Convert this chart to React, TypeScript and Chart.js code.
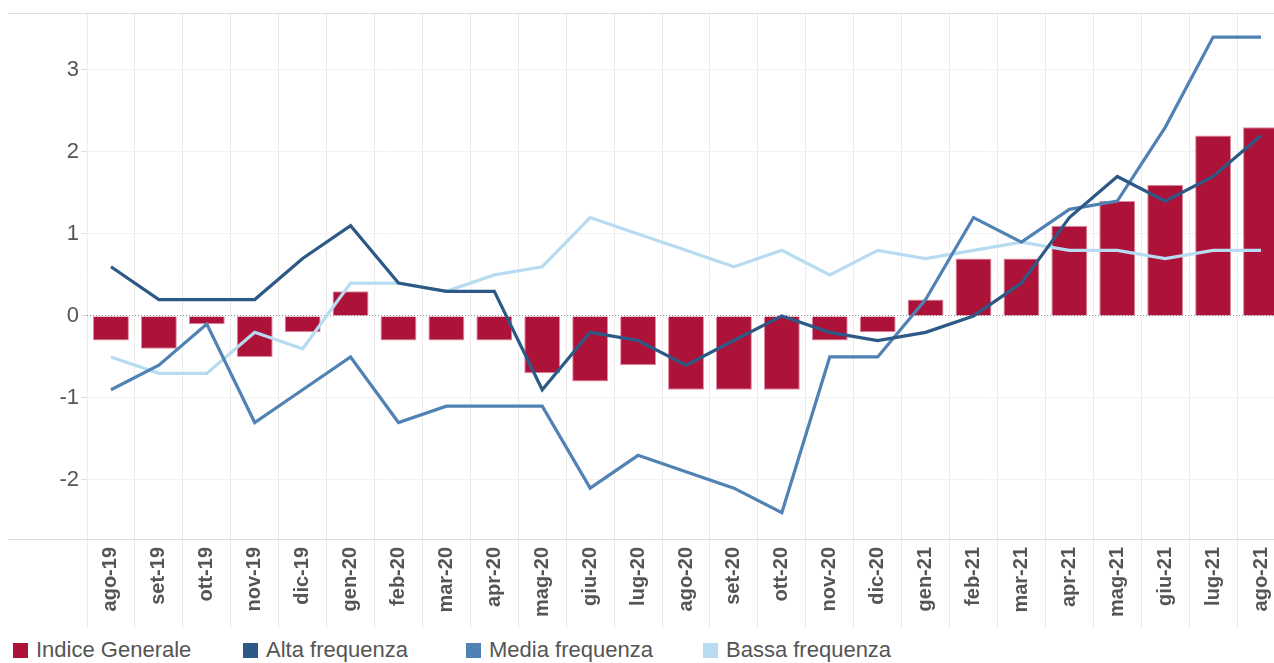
import React, { useEffect, useRef } from "react";
import { Chart, registerables } from "chart.js";

Chart.register(...registerables);

const categories = [
  "ago-19", "set-19", "ott-19", "nov-19", "dic-19", "gen-20", "feb-20", "mar-20", "apr-20",
  "mag-20", "giu-20", "lug-20", "ago-20", "set-20", "ott-20", "nov-20", "dic-20", "gen-21",
  "feb-21", "mar-21", "apr-21", "mag-21", "giu-21", "lug-21", "ago-21",
];

const indiceGenerale = [
  -0.3, -0.4, -0.1, -0.5, -0.2, 0.3, -0.3, -0.3, -0.3, -0.7, -0.8, -0.6, -0.9, -0.9, -0.9,
  -0.3, -0.2, 0.2, 0.7, 0.7, 1.1, 1.4, 1.6, 2.2, 2.3,
];

const altaFrequenza = [
  0.6, 0.2, 0.2, 0.2, 0.7, 1.1, 0.4, 0.3, 0.3, -0.9, -0.2, -0.3, -0.6, -0.3, 0.0, -0.2, -0.3,
  -0.2, 0.0, 0.4, 1.2, 1.7, 1.4, 1.7, 2.2,
];

const mediaFrequenza = [
  -0.9, -0.6, -0.1, -1.3, -0.9, -0.5, -1.3, -1.1, -1.1, -1.1, -2.1, -1.7, -1.9, -2.1, -2.4,
  -0.5, -0.5, 0.2, 1.2, 0.9, 1.3, 1.4, 2.3, 3.4, 3.4,
];

const bassaFrequenza = [
  -0.5, -0.7, -0.7, -0.2, -0.4, 0.4, 0.4, 0.3, 0.5, 0.6, 1.2, 1.0, 0.8, 0.6, 0.8, 0.5, 0.8,
  0.7, 0.8, 0.9, 0.8, 0.8, 0.7, 0.8, 0.8,
];

const seriesNames = ["Indice Generale", "Alta frequenza", "Media frequenza", "Bassa frequenza"];
const seriesColors = ["#AD1338", "#2C5985", "#5082B4", "#B7DCF1"];
const legendLefts = [13, 243, 466, 703];

const Y_MIN = -2.72;
const Y_MAX = 3.7;

const FONT = "'Liberation Sans', Arial, sans-serif";

const framePlugin = {
  id: "frameLines",
  beforeDatasetsDraw(chart: any) {
    const { ctx, chartArea } = chart;
    ctx.save();
    ctx.strokeStyle = "#dedede";
    ctx.lineWidth = 1;
    ctx.beginPath();
    const top = Math.round(chartArea.top) + 0.5;
    const bottom = Math.round(chartArea.bottom) + 0.5;
    ctx.moveTo(8, top);
    ctx.lineTo(chart.width, top);
    ctx.moveTo(8, bottom);
    ctx.lineTo(chart.width, bottom);
    ctx.stroke();
    ctx.restore();
  },
};

function ChartView() {
  const canvasRef = useRef<HTMLCanvasElement | null>(null);

  useEffect(() => {
    if (!canvasRef.current) return;
    const chart = new Chart(canvasRef.current, {
      type: "bar",
      data: {
        labels: categories,
        datasets: [
          {
            type: "bar",
            label: seriesNames[0],
            data: indiceGenerale,
            backgroundColor: seriesColors[0],
            borderColor: "rgba(214,110,140,0.8)",
            borderWidth: 1,
            barPercentage: 0.75,
            categoryPercentage: 1,
            order: 4,
          },
          {
            type: "line",
            label: seriesNames[1],
            data: altaFrequenza,
            borderColor: seriesColors[1],
            backgroundColor: seriesColors[1],
            borderWidth: 3.2,
            pointRadius: 0,
            tension: 0,
            order: 1,
          },
          {
            type: "line",
            label: seriesNames[2],
            data: mediaFrequenza,
            borderColor: seriesColors[2],
            backgroundColor: seriesColors[2],
            borderWidth: 3.2,
            pointRadius: 0,
            tension: 0,
            order: 2,
          },
          {
            type: "line",
            label: seriesNames[3],
            data: bassaFrequenza,
            borderColor: seriesColors[3],
            backgroundColor: seriesColors[3],
            borderWidth: 3.2,
            pointRadius: 0,
            tension: 0,
            order: 3,
          },
        ] as any,
      },
      options: {
        animation: false,
        responsive: true,
        maintainAspectRatio: false,
        layout: { padding: { top: 12.5, right: 0, bottom: 0, left: 0 } },
        plugins: {
          legend: { display: false },
          tooltip: { enabled: false },
        },
        scales: {
          x: {
            offset: true,
            grid: {
              offset: true,
              color: "#ebebeb",
              tickColor: "#ebebeb",
              tickLength: 89,
              lineWidth: 1,
            },
            border: { display: false },
            ticks: {
              autoSkip: false,
              minRotation: 90,
              maxRotation: 90,
              padding: -81,
              color: "#555555",
              font: { family: FONT, size: 20, weight: "bold" },
            },
            afterFit: (scale: any) => {
              scale.height = 91;
              scale.paddingLeft = 0;
              scale.paddingRight = 0;
            },
          },
          y: {
            min: Y_MIN,
            max: Y_MAX,
            grid: {
              color: (ctx: any) => (ctx.tick && ctx.tick.value === 0 ? "#8a8a8a" : "#f2f2f2"),
              tickColor: "#dcdcdc",
              tickLength: 6,
            },
            border: {
              display: false,
              dash: (ctx: any) => (ctx.tick && ctx.tick.value === 0 ? [1, 2] : []),
            } as any,
            ticks: {
              stepSize: 1,
              includeBounds: false,
              padding: 2,
              color: "#555555",
              font: { family: FONT, size: 22 },
            },
            afterFit: (scale: any) => {
              scale.width = 87;
              scale.paddingTop = 0;
              scale.paddingBottom = 0;
            },
          },
        },
      },
      plugins: [framePlugin],
    });
    return () => chart.destroy();
  }, []);

  return (
    <div style={{ position: "absolute", left: 0, top: 0, width: 1285, height: 630 }}>
      <canvas ref={canvasRef} />
    </div>
  );
}

export default function App() {
  return (
    <div
      style={{
        position: "fixed",
        left: 0,
        top: 0,
        width: 1274,
        height: 663,
        overflow: "hidden",
        background: "#ffffff",
      }}
    >
      <ChartView />
      {seriesNames.map((name, i) => (
        <div
          key={name}
          style={{
            position: "absolute",
            left: legendLefts[i],
            top: 637,
            height: 26,
            display: "flex",
            alignItems: "center",
            fontFamily: FONT,
            fontSize: 22,
            color: "#555555",
            whiteSpace: "nowrap",
          }}
        >
          <span
            style={{
              display: "inline-block",
              width: 15,
              height: 15,
              background: seriesColors[i],
              marginRight: 8,
            }}
          />
          <span>{name}</span>
        </div>
      ))}
    </div>
  );
}
